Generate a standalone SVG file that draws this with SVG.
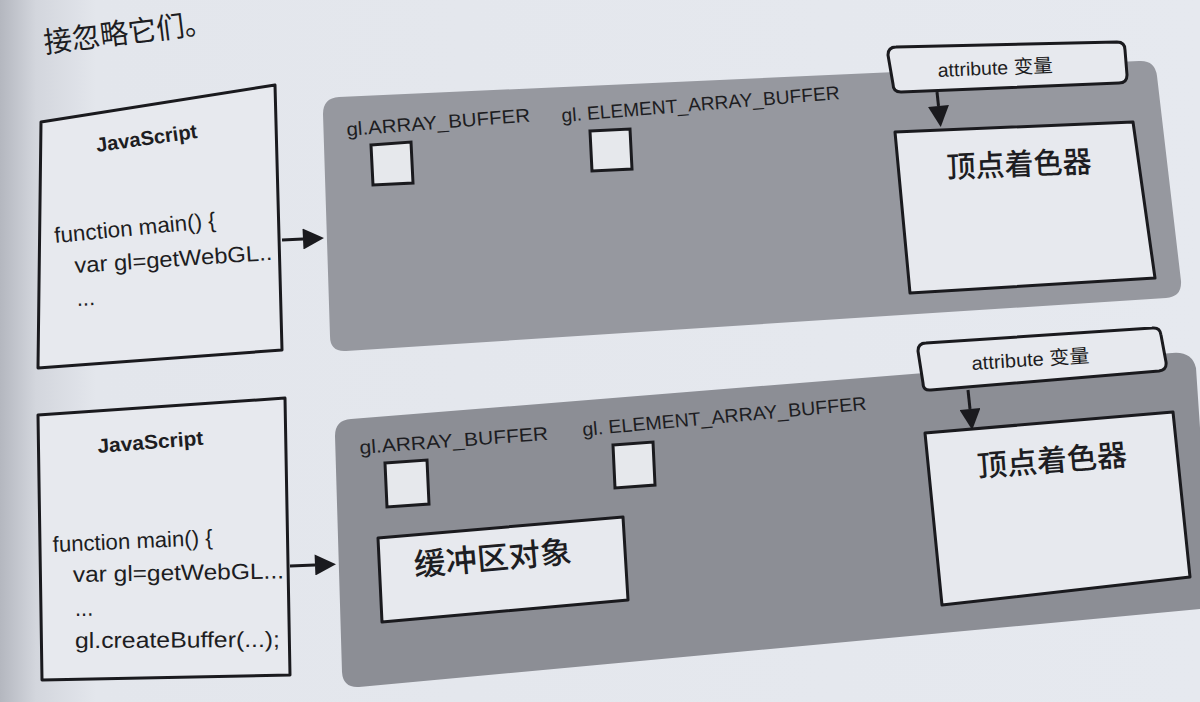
<svg xmlns="http://www.w3.org/2000/svg" width="1200" height="702" viewBox="0 0 1200 702">
<defs>
<linearGradient id="page" x1="0" y1="0" x2="1" y2="0">
<stop offset="0" stop-color="#b4b7bf"/>
<stop offset="0.03" stop-color="#d3d6dd"/>
<stop offset="0.08" stop-color="#e3e6ec"/>
<stop offset="1" stop-color="#e6e9ef"/>
</linearGradient>
<marker id="ah" viewBox="0 0 10 10" refX="0" refY="5" markerWidth="22" markerHeight="21" markerUnits="userSpaceOnUse" orient="auto">
<path d="M0,0 L10,5 L0,10 Z" fill="#1a1a1e"/>
</marker>
<style>
.box{fill:#e7e9ee;stroke:#1a1a1e;stroke-width:3;stroke-linejoin:round}
.sq{fill:#e6e8ec;stroke:#1a1a1e;stroke-width:3}
.panel{fill:#96989f}
.panel2{fill:#8c8e95}
.t{font-family:"Liberation Sans",Arial,"Noto Sans CJK SC",sans-serif;fill:#1d1d22}
.js{font-size:20px;font-weight:bold}
.code{font-size:22px}
.gl{font-size:19px}
.cjk{font-family:"Liberation Sans","Noto Sans CJK SC",sans-serif;fill:#1d1d22}
.big{font-size:30px;font-weight:500}
.conn{stroke:#1a1a1e;stroke-width:3;fill:none;marker-end:url(#ah)}
</style>
</defs>
<rect width="1200" height="702" fill="url(#page)"/>
<text class="cjk" x="45" y="53" font-size="29" fill="#2a2a30" transform="rotate(-7 45 53)" textLength="170" lengthAdjust="spacingAndGlyphs">接忽略它们。</text>

<g id="panel-top">
<path class="panel" d="M323,114 Q323,98 339,97 L1139,61 Q1155,60 1157,76 L1181,281 Q1182,297 1166,298 L346,351 Q330,352 330,336 Z"/>
</g>
<g id="panel-bottom">
<path class="panel2" d="M335,436 Q335,420 351,419 L1172,353 Q1192,351 1196,368 L1212,608 L359,687 Q343,688 342,672 Z"/>
</g>

<g id="js-top">
<path class="box" d="M41,122 L275,85 L282,350 L38,368 Z"/>
<text class="t js" x="97" y="152" transform="rotate(-8 97 152)" textLength="102" lengthAdjust="spacingAndGlyphs">JavaScript</text>
<text class="t code" x="55" y="243" transform="rotate(-5.5 55 243)" textLength="162" lengthAdjust="spacingAndGlyphs">function main() {</text>
<text class="t code" x="75" y="273" transform="rotate(-3.8 75 273)" textLength="198" lengthAdjust="spacingAndGlyphs">var gl=getWebGL..</text>
<text class="t code" x="77" y="306" transform="rotate(-3 77 306)">...</text>
</g>

<g id="js-bottom">
<path class="box" d="M38,415 L285,398 L290,675 L42,680 Z"/>
<text class="t js" x="98" y="453" transform="rotate(-4.5 98 453)" textLength="106" lengthAdjust="spacingAndGlyphs">JavaScript</text>
<text class="t code" x="53" y="552" transform="rotate(-2.5 53 552)" textLength="160" lengthAdjust="spacingAndGlyphs">function main() {</text>
<text class="t code" x="73" y="582" transform="rotate(-1 73 582)" textLength="211" lengthAdjust="spacingAndGlyphs">var gl=getWebGL...</text>
<text class="t code" x="75" y="616" transform="rotate(-1 75 616)">...</text>
<text class="t code" x="75" y="648" transform="rotate(-0.3 75 648)" textLength="205" lengthAdjust="spacingAndGlyphs">gl.createBuffer(...);</text>
</g>

<g id="buffers-top">
<text class="t gl" x="347" y="136" transform="rotate(-4.5 347 136)" textLength="184" lengthAdjust="spacingAndGlyphs">gl.ARRAY_BUFFER</text>
<polygon class="sq" points="371,145 411,142 413,183 373,185"/>
<text class="t gl" x="562" y="122" transform="rotate(-4.7 562 122)" textLength="279" lengthAdjust="spacingAndGlyphs">gl. ELEMENT_ARRAY_BUFFER</text>
<polygon class="sq" points="590,131 630,129 632,169 592,171"/>
</g>

<g id="buffers-bottom">
<text class="t gl" x="360" y="454" transform="rotate(-4.3 360 454)" textLength="189" lengthAdjust="spacingAndGlyphs">gl.ARRAY_BUFFER</text>
<polygon class="sq" points="385,463 427,460 429,504 387,507"/>
<text class="t gl" x="583" y="436" transform="rotate(-5.3 583 436)" textLength="285" lengthAdjust="spacingAndGlyphs">gl. ELEMENT_ARRAY_BUFFER</text>
<polygon class="sq" points="613,445 653,442 655,485 615,488"/>
</g>

<g id="buffer-object">
<path class="box" d="M378,538 L623,517 L628,600 L382,622 Z"/>
<text class="cjk" x="415" y="576" font-size="31" font-weight="500" transform="rotate(-5 415 576)" textLength="158" lengthAdjust="spacingAndGlyphs">缓冲区对象</text>
</g>

<g id="attr-top">
<path class="box" d="M888,55 Q888,47 896,47 L1117,42 Q1125,42 1125,50 L1127,75 Q1127,83 1119,83 L901,92 Q893,92 893,84 Z"/>
<text class="cjk" x="938" y="77" font-size="19" transform="rotate(-2.5 938 77)" textLength="115" lengthAdjust="spacingAndGlyphs">attribute 变量</text>
</g>

<g id="shader-top">
<path class="box" d="M895,132 L1133,122 L1155,278 L910,293 Z"/>
<text class="cjk big" x="947" y="178" transform="rotate(-2.4 947 178)" textLength="145" lengthAdjust="spacingAndGlyphs">顶点着色器</text>
</g>

<g id="attr-bottom">
<path class="box" d="M918,351 Q918,343 926,343 L1152,328 Q1160,327 1161,335 L1166,362 Q1167,370 1159,371 L931,390 Q923,391 923,383 Z"/>
<text class="cjk" x="972" y="370" font-size="19" transform="rotate(-3.8 972 370)" textLength="118" lengthAdjust="spacingAndGlyphs">attribute 变量</text>
</g>

<g id="shader-bottom">
<path class="box" d="M925,433 L1173,412 L1190,577 L942,605 Z"/>
<text class="cjk big" x="978" y="477" transform="rotate(-4.5 978 477)" textLength="150" lengthAdjust="spacingAndGlyphs">顶点着色器</text>
</g>

<g id="connectors">
<line class="conn" x1="282" y1="240" x2="303" y2="239"/>
<line class="conn" x1="290" y1="566" x2="315" y2="565"/>
<line class="conn" x1="937" y1="92" x2="938.5" y2="106"/>
<line class="conn" x1="968" y1="390" x2="970" y2="409"/>
</g>
</svg>
